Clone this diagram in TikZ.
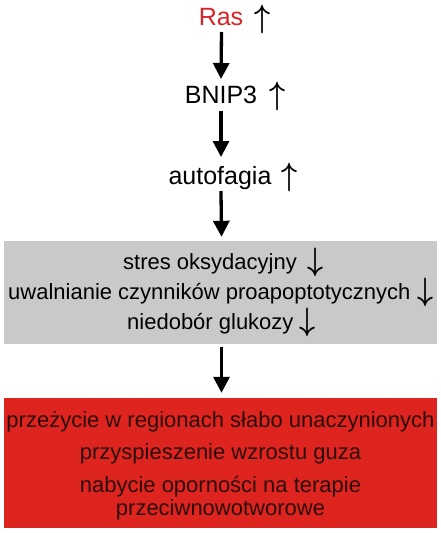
\documentclass[tikz,border=0pt]{standalone}
\usepackage{graphicx}
\usepackage{fontspec}
\setmainfont{Liberation Sans}
\usetikzlibrary{arrows.meta}
\definecolor{rasred}{RGB}{214,36,40}
\definecolor{boxgrey}{RGB}{201,201,201}
\definecolor{boxred}{RGB}{222,36,30}
\definecolor{darktext}{RGB}{45,14,14}
\newcommand{\myup}{\scalebox{1.12}[1.3]{$\uparrow$}}
\newcommand{\mydown}{\scalebox{1.12}[1.3]{$\downarrow$}}
\tikzset{
  toplbl/.style={font=\fontsize{25}{28}\selectfont, inner sep=0pt, anchor=base},
  boxlbl/.style={font=\fontsize{22}{25}\selectfont, inner sep=0pt, anchor=base west},
  redlbl/.style={font=\fontsize{22}{25}\selectfont, inner sep=0pt, anchor=base, text=darktext},
  updown/.style={font=\fontsize{24.88}{28}\selectfont\boldmath, inner sep=0pt, anchor=base},
  flow/.style={line width=3.3pt, -{Triangle[width=16pt,length=16pt]}},
  greybox/.style={fill=boxgrey, draw=none, minimum width=433pt, minimum height=103pt, inner sep=0pt},
  redbox/.style={fill=boxred, draw=none, minimum width=433pt, minimum height=130pt, inner sep=0pt}
}
\begin{document}
\begin{tikzpicture}[x=1pt,y=-1pt]
\useasboundingbox[fill=white] (0,0) rectangle (441,533);
% boxes
\node[greybox] (stres) at (220.5,292.5) {};
\node[redbox] (wynik) at (220.5,463) {};
% top chain
\node[toplbl, text=rasred] (ras) at (221,25) {Ras};
\node[updown] (rasup) at (263,27) {\myup};
\node[toplbl] (bnip) at (221,103) {BNIP3};
\node[updown] (bnipup) at (278,104) {\myup};
\node[toplbl] (auto) at (220,184) {autofagia};
\node[updown] (autoup) at (290,185) {\myup};
% grey box lines
\node[boxlbl] (g1) at (123,269) {stres oksydacyjny};
\node[updown] (g1down) at (316,270) {\mydown};
\node[boxlbl] (g2) at (8,299) {uwalnianie czynników proapoptotycznych};
\node[updown] (g2down) at (426,300) {\mydown};
\node[boxlbl] (g3) at (127,329) {niedobór glukozy};
\node[updown] (g3down) at (308,330) {\mydown};
% red box lines
\node[redlbl] (r1) at (220.5,427) {przeżycie w regionach słabo unaczynionych};
\node[redlbl] (r2) at (220.5,459) {przyspieszenie wzrostu guza};
\node[redlbl] (r3) at (220.5,492) {nabycie oporności na terapie};
\node[redlbl] (r4) at (220.5,515) {przeciwnowotworowe};
% connectors
\draw[flow] ([xshift=0.5pt,yshift=-7pt]ras.base) -- ([yshift=24pt]bnip.base);
\draw[flow] ([yshift=-8pt]bnip.base) -- ([xshift=1pt,yshift=27pt]auto.base);
\draw[flow] ([xshift=1pt,yshift=-7pt]auto.base) -- ([xshift=1pt,yshift=4pt]stres.north);
\draw[flow] ([xshift=1pt,yshift=-3pt]stres.south) -- ([xshift=1pt,yshift=5pt]wynik.north);
\end{tikzpicture}
\end{document}
